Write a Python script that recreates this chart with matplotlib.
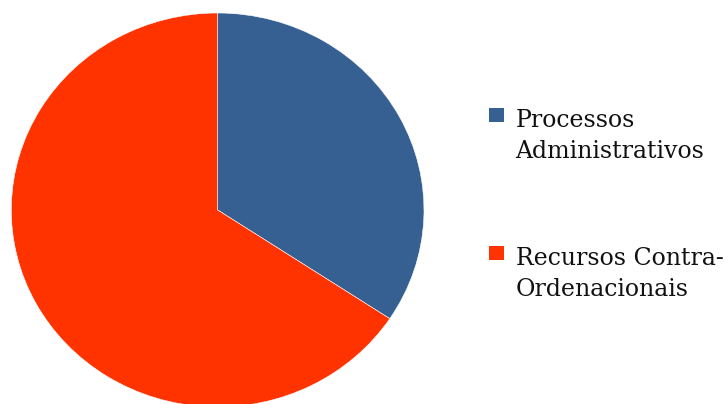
import matplotlib.pyplot as plt
from matplotlib.patches import Rectangle

# share of each type of case
labels = ['Processos\nAdministrativos', 'Recursos Contra-\nOrdenacionais']
values = [34.3, 65.7]
colors = ['#376092', '#FF3300']

W, H = 725, 404
fig = plt.figure(figsize=(W / 100, H / 100), dpi=100)
ax = fig.add_axes([11.3 / W, -3 / H, 412.7 / W, 394 / H])

wedges, _ = ax.pie(values, colors=colors, startangle=90, counterclock=False,
                   wedgeprops=dict(linewidth=0.4, edgecolor='white'))
ax.set_aspect('auto')
ax.set_xlim(-1, 1)
ax.set_ylim(-1, 1)

# legend drawn by hand: swatch beside the first line of each label
top0, step = 108, 138
line_gap = 31.7
for i, (lab, col) in enumerate(zip(labels, colors)):
    top = top0 + i * step
    fig.add_artist(Rectangle((489 / W, 1 - (top + 14) / H), 15 / W, 14 / H,
                             transform=fig.transFigure, facecolor=col,
                             edgecolor='none'))
    for j, line in enumerate(lab.split('\n')):
        base = top + 18.7 + j * line_gap
        fig.text(515.5 / W, 1 - base / H, line, family='DejaVu Serif',
                 fontsize=17, color='#111111', va='baseline', ha='left')

fig.savefig('out.png', dpi=100)
